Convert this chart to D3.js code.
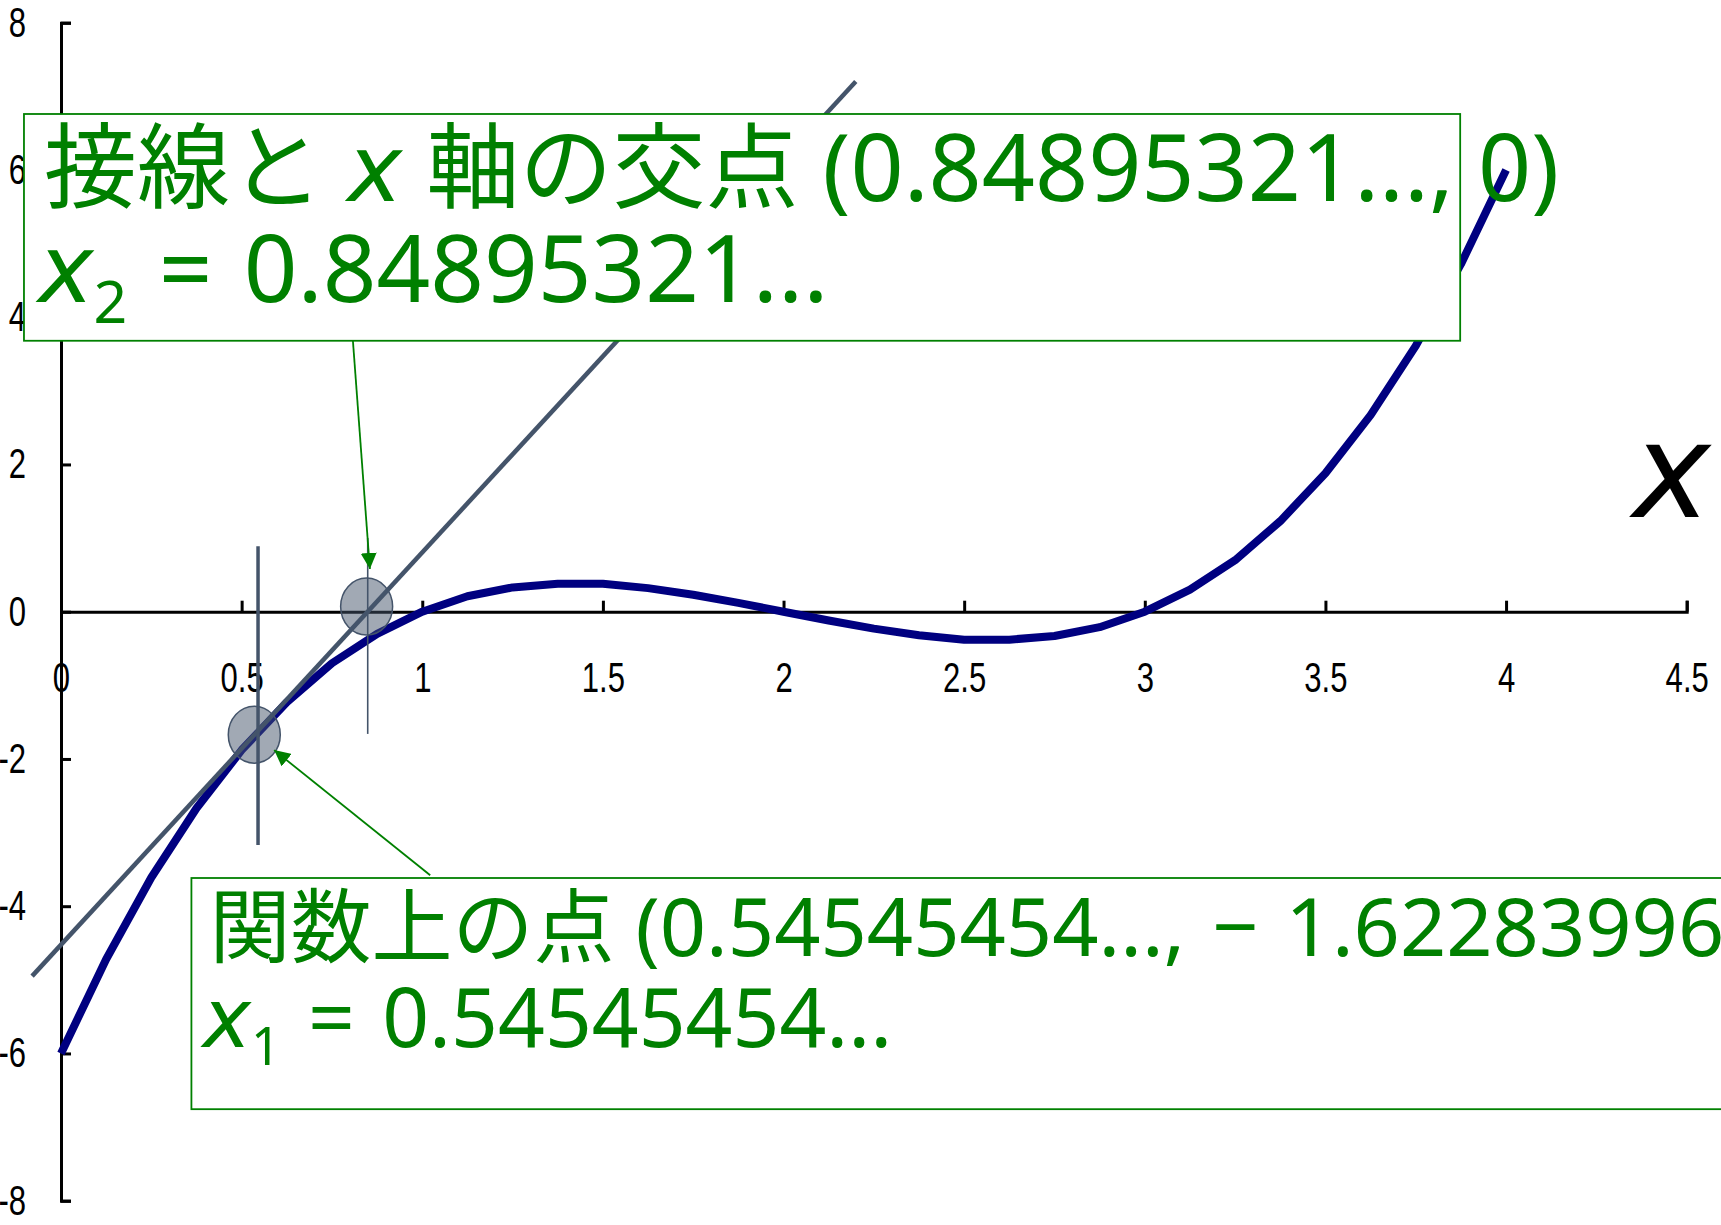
<!DOCTYPE html>
<html>
<head>
<meta charset="utf-8">
<script src="https://cdn.jsdelivr.net/npm/d3@7"></script>
<style>
  body { margin: 0; background: #fff; }
  svg { display: block; }
</style>
</head>
<body>
<div id="chart"></div>
<script>
// values
const xTicks = [0, 0.5, 1, 1.5, 2, 2.5, 3, 3.5, 4, 4.5];
const xTickLabels = ["0", "0.5", "1", "1.5", "2", "2.5", "3", "3.5", "4", "4.5"];
const yTicks = [-8, -6, -4, -2, 0, 2, 4, 6, 8];
const yTickLabels = ["-8", "-6", "-4", "-2", "0", "2", "4", "6", "8"];

// the curve, one point every 0.125
const curveX = [0, 0.125, 0.25, 0.375, 0.5, 0.625, 0.75, 0.875, 1, 1.125, 1.25, 1.375, 1.5, 1.625, 1.75, 1.875,
                2, 2.125, 2.25, 2.375, 2.5, 2.625, 2.75, 2.875, 3, 3.125, 3.25, 3.375, 3.5, 3.625, 3.75, 3.875, 4];
const curveY = [-6, -4.72, -3.61, -2.67, -1.88, -1.23, -0.70, -0.30, 0, 0.21, 0.33, 0.38, 0.38, 0.32, 0.23, 0.12,
                0, -0.12, -0.23, -0.32, -0.38, -0.38, -0.33, -0.21, 0, 0.30, 0.70, 1.23, 1.88, 2.67, 3.61, 4.72, 6];

// tangent line end points
const tangentX = [-0.08, 2.2];
const tangentY = [-4.95, 7.2];

// marked points (circles) and their vertical guide lines
const markX = [0.535, 0.846];
const markY = [-1.67, 0.07];
const guideX = [0.5454, 0.849];
const guideTop = [0.89, 1.0];
const guideBottom = [-3.17, -1.66];
const guideWidth = [3.5, 1.6];

// callout arrows: from label box to point
const arrowFromX = [0.808, 1.022];
const arrowFromY = [3.68, -3.58];
const arrowToX = [0.855, 0.590];
const arrowToY = [0.58, -1.88];

// label boxes (data units)
const boxX0 = [-0.1025, 0.361];
const boxX1 = [3.873, 4.9];
const boxY0 = [6.76, -3.617];
const boxY1 = [3.68, -6.757];

const sp = "\u2004";
const box1Line1 = [["接線と ", false], ["x", true], [" 軸の交点 (0.84895321..., 0)", false]];
const box1Line2 = ["x", "2", sp + "=" + sp + "0.84895321..."];
const box2Line1 = [["関数上の点 (0.54545454...," + sp + "−" + sp + "1.62283996...)", false]];
const box2Line2 = ["x", "1", sp + "=" + sp + "0.54545454..."];

const W = 1721, H = 1225;
const green = "#008000", slate = "#44546A", navy = "#000080";
const textFont = "'Noto Sans', 'Noto Sans CJK JP', sans-serif";
const italicFont = "'DejaVu Sans', sans-serif";
const tickFont = "'Liberation Sans', Arial, sans-serif";
const tickSqueeze = 0.74;

const svg = d3.select("#chart").append("svg")
    .attr("width", W)
    .attr("height", H);

const x = d3.scaleLinear().domain([0, 4.5]).range([61, 1686.7]);
const y = d3.scaleLinear().domain([-8, 8]).range([1200.7, 22.7]);

// y axis, ticks pointing inwards, labels on the left
const yAxis = svg.append("g")
    .attr("transform", `translate(${x(0)},0)`)
    .call(d3.axisLeft(y).tickValues(yTicks).tickSize(-10).tickPadding(35)
        .tickFormat((d, i) => yTickLabels[i]));

// x axis through y = 0, ticks pointing up
const xAxis = svg.append("g")
    .attr("transform", `translate(0,${y(0)})`)
    .call(d3.axisBottom(x).tickValues(xTicks).tickSize(-11).tickPadding(50)
        .tickFormat((d, i) => xTickLabels[i]));

[yAxis, xAxis].forEach(g => {
    g.select(".domain").attr("stroke", "#000").attr("stroke-width", 3);
    g.selectAll(".tick line").attr("stroke", "#000").attr("stroke-width", 3);
    g.selectAll(".tick text")
        .attr("fill", "#000")
        .style("font-family", tickFont)
        .style("font-size", "42px");
});
// narrow tick digits
yAxis.selectAll(".tick text")
    .attr("x", -35 / tickSqueeze)
    .attr("transform", `scale(${tickSqueeze},1)`);
xAxis.selectAll(".tick text")
    .attr("transform", `scale(${tickSqueeze},1)`);

// big axis letter
svg.append("text")
    .attr("x", x(4.35))
    .attr("y", y(1.29))
    .style("font-family", italicFont)
    .style("font-style", "italic")
    .style("font-size", "132px")
    .attr("fill", "#000")
    .text("x");

// function curve
const curve = curveX.map((d, i) => [d, curveY[i]]);
svg.append("path")
    .datum(curve)
    .attr("fill", "none")
    .attr("stroke", navy)
    .attr("stroke-width", 8)
    .attr("stroke-linejoin", "round")
    .attr("d", d3.line().x(d => x(d[0])).y(d => y(d[1])));

// tangent line
svg.append("line")
    .attr("x1", x(tangentX[0])).attr("y1", y(tangentY[0]))
    .attr("x2", x(tangentX[1])).attr("y2", y(tangentY[1]))
    .attr("stroke", slate)
    .attr("stroke-width", 4.5);

// vertical guides
svg.selectAll(".guide")
    .data(guideX)
    .enter().append("line")
    .attr("class", "guide")
    .attr("x1", d => x(d)).attr("x2", d => x(d))
    .attr("y1", (d, i) => y(guideTop[i]))
    .attr("y2", (d, i) => y(guideBottom[i]))
    .attr("stroke", slate)
    .attr("stroke-width", (d, i) => guideWidth[i]);

// marked points
svg.selectAll(".mark")
    .data(markX)
    .enter().append("ellipse")
    .attr("class", "mark")
    .attr("cx", d => x(d))
    .attr("cy", (d, i) => y(markY[i]))
    .attr("rx", 26)
    .attr("ry", 28.5)
    .attr("fill", slate)
    .attr("fill-opacity", 0.5)
    .attr("stroke", slate)
    .attr("stroke-width", 1.5);

// arrow head
svg.append("defs").append("marker")
    .attr("id", "head")
    .attr("viewBox", "0 0 10 10")
    .attr("refX", 10).attr("refY", 5)
    .attr("markerWidth", 16).attr("markerHeight", 16)
    .attr("markerUnits", "userSpaceOnUse")
    .attr("orient", "auto")
    .append("path")
    .attr("d", "M0,0L10,5L0,10z")
    .attr("fill", green);

svg.selectAll(".arrow")
    .data(arrowFromX)
    .enter().append("line")
    .attr("class", "arrow")
    .attr("x1", d => x(d))
    .attr("y1", (d, i) => y(arrowFromY[i]))
    .attr("x2", (d, i) => x(arrowToX[i]))
    .attr("y2", (d, i) => y(arrowToY[i]))
    .attr("stroke", green)
    .attr("stroke-width", 1.8)
    .attr("marker-end", "url(#head)");

// label boxes
svg.selectAll(".box")
    .data(boxX0)
    .enter().append("rect")
    .attr("class", "box")
    .attr("x", d => x(d))
    .attr("y", (d, i) => y(boxY0[i]))
    .attr("width", (d, i) => x(boxX1[i]) - x(d))
    .attr("height", (d, i) => y(boxY1[i]) - y(boxY0[i]))
    .attr("fill", "#fff")
    .attr("stroke", green)
    .attr("stroke-width", 1.8);

function plainLine(parts, px, py, size) {
    const t = svg.append("text")
        .attr("x", px).attr("y", py)
        .attr("fill", green)
        .style("font-family", textFont)
        .style("font-size", size + "px");
    parts.forEach(p => {
        const s = t.append("tspan").text(p[0]);
        if (p[1]) s.style("font-style", "italic").style("font-family", italicFont);
    });
    return t;
}

function subLine(parts, px, py, size, drop) {
    const t = svg.append("text")
        .attr("x", px).attr("y", py)
        .attr("fill", green)
        .style("font-family", textFont)
        .style("font-size", size + "px");
    t.append("tspan").style("font-style", "italic").style("font-family", italicFont).text(parts[0]);
    t.append("tspan").attr("dy", drop).style("font-size", Math.round(size * 0.63) + "px").text(parts[1]);
    t.append("tspan").attr("dy", -drop).text(parts[2]);
    return t;
}

plainLine(box1Line1, x(boxX0[0]) + 20, y(boxY0[0]) + 87, 93);
subLine(box1Line2, x(boxX0[0]) + 14, y(boxY0[0]) + 188, 94, 21);
plainLine(box2Line1, x(boxX0[1]) + 18, y(boxY0[1]) + 78, 81);
subLine(box2Line2, x(boxX0[1]) + 11, y(boxY0[1]) + 169, 82, 18);
</script>
</body>
</html>
